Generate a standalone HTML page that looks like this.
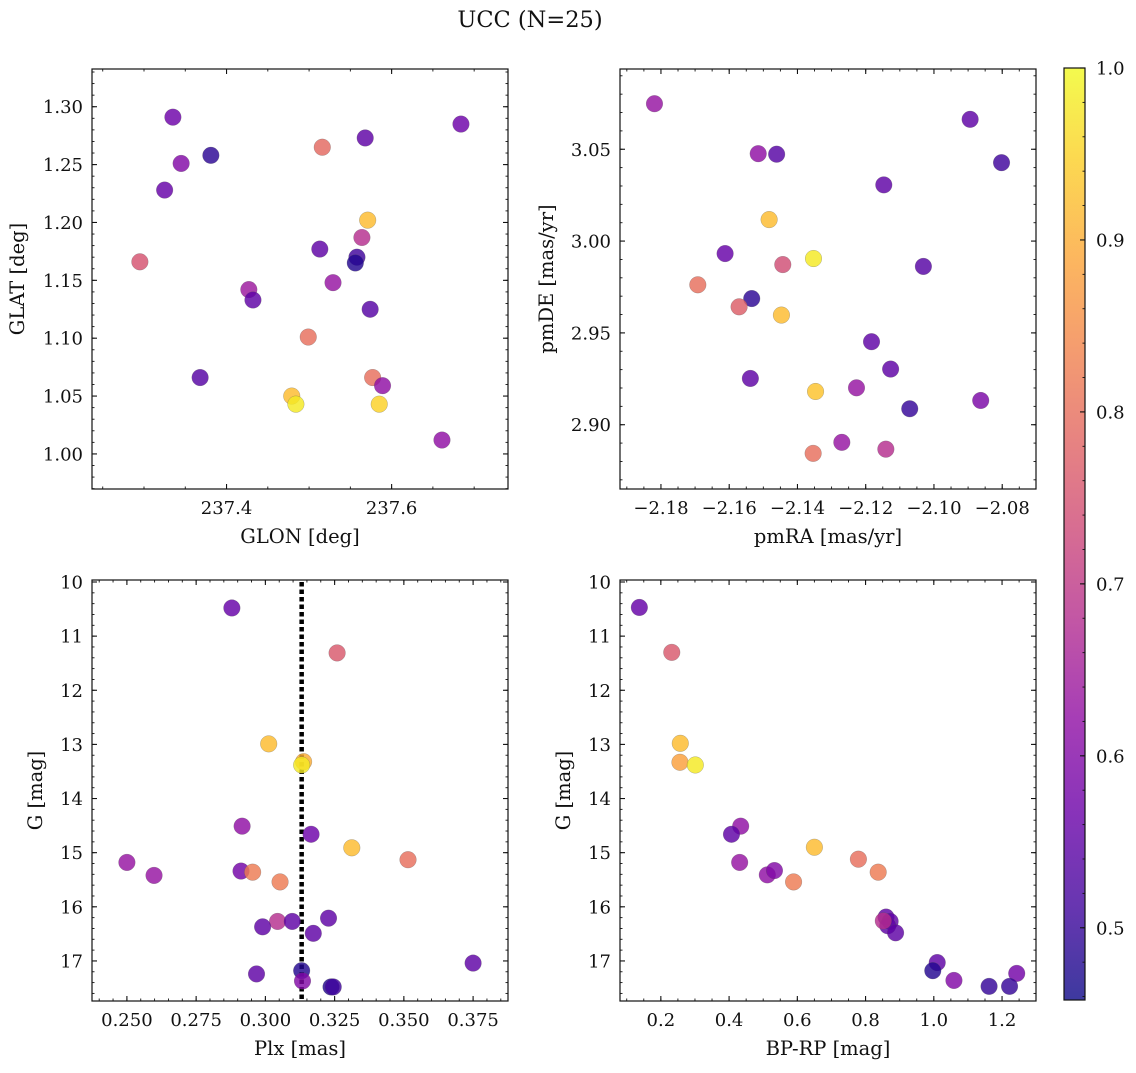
<!DOCTYPE html>
<html><head><meta charset="utf-8">
<style>
html,body{margin:0;padding:0;background:#fff;}
svg text{font-family:"DejaVu Serif","Liberation Serif",serif;fill:#111;}
</style></head>
<body>
<svg id="fig" width="1136" height="1068" viewBox="0 0 1136 1068" xmlns="http://www.w3.org/2000/svg">
<rect width="1136" height="1068" fill="#fff"/>
<text x="530" y="27" font-size="22.5" text-anchor="middle">UCC (N=25)</text>
<defs>
<linearGradient id="plasma" x1="0" y1="1" x2="0" y2="0">
<stop offset="0" stop-color="#0d0887"/><stop offset="0.1" stop-color="#41049d"/><stop offset="0.2" stop-color="#6a00a8"/><stop offset="0.3" stop-color="#8f0da4"/><stop offset="0.4" stop-color="#b12a90"/><stop offset="0.5" stop-color="#cc4778"/><stop offset="0.6" stop-color="#e16462"/><stop offset="0.7" stop-color="#f2844b"/><stop offset="0.8" stop-color="#fca636"/><stop offset="0.9" stop-color="#fcce25"/><stop offset="1" stop-color="#f0f921"/>
</linearGradient>
</defs>
</svg>
<script>
// ---- data: panel 1 (GLON vs GLAT)
const glon = [237.335,237.381,237.345,237.325,237.295,237.516,237.568,237.684,237.571,237.564,237.513,237.558,237.556,237.427,237.432,237.529,237.574,237.499,237.368,237.577,237.589,237.479,237.484,237.585,237.661];
const glat = [1.291,1.258,1.251,1.228,1.166,1.265,1.273,1.285,1.202,1.187,1.177,1.170,1.165,1.142,1.133,1.148,1.125,1.101,1.066,1.066,1.059,1.050,1.043,1.043,1.012];
const prob1 = [0.57,0.49,0.60,0.56,0.75,0.79,0.55,0.57,0.92,0.68,0.55,0.51,0.48,0.64,0.55,0.63,0.54,0.80,0.54,0.80,0.62,0.92,0.98,0.95,0.62];
// ---- panel 2 (pmRA vs pmDE)
const pmra = [-2.1819,-2.1515,-2.1461,-2.0894,-2.0802,-2.1147,-2.1483,-2.1612,-2.1443,-2.1353,-2.1031,-2.1692,-2.1534,-2.1571,-2.1447,-2.1183,-2.1127,-2.1538,-2.1347,-2.1227,-2.1071,-2.0863,-2.1270,-2.1141,-2.1354];
const pmde = [3.0748,3.0476,3.0473,3.0663,3.0427,3.0306,3.0117,2.9932,2.9872,2.9905,2.9862,2.9762,2.9687,2.9642,2.9597,2.9452,2.9303,2.9252,2.9181,2.9201,2.9087,2.9132,2.8904,2.8867,2.8844];
const prob2 = [0.63,0.62,0.54,0.55,0.51,0.55,0.92,0.56,0.74,0.98,0.54,0.80,0.49,0.77,0.92,0.55,0.55,0.55,0.93,0.63,0.50,0.59,0.63,0.68,0.80];
// ---- panel 3 (Plx vs G)
const plx = [0.2879,0.3259,0.3012,0.3138,0.3131,0.2916,0.3165,0.3312,0.2500,0.3515,0.2598,0.2912,0.2954,0.3053,0.3044,0.3097,0.2990,0.3228,0.3173,0.3750,0.2968,0.3131,0.3134,0.3237,0.3245];
const gmag3 = [10.48,11.31,12.99,13.32,13.38,14.51,14.66,14.91,15.18,15.13,15.42,15.34,15.36,15.54,16.27,16.27,16.37,16.21,16.49,17.04,17.24,17.18,17.37,17.48,17.48];
const prob3 = [0.56,0.76,0.92,0.90,0.98,0.62,0.57,0.92,0.63,0.80,0.63,0.58,0.82,0.82,0.68,0.55,0.55,0.55,0.55,0.55,0.55,0.48,0.60,0.48,0.51];
const plxMean = [0.3131];
// ---- panel 4 (BP-RP vs G)
const bprp = [0.137,0.232,0.257,0.256,0.301,0.434,0.407,0.650,0.431,0.779,0.512,0.533,0.837,0.589,0.860,0.872,0.865,0.852,0.888,1.010,0.997,1.059,1.243,1.162,1.222];
const gmag4 = [10.47,11.30,12.98,13.33,13.38,14.51,14.66,14.90,15.18,15.12,15.41,15.33,15.36,15.54,16.19,16.27,16.35,16.26,16.48,17.03,17.18,17.36,17.23,17.47,17.47];
const prob4 = [0.56,0.76,0.92,0.88,0.98,0.62,0.55,0.92,0.63,0.80,0.62,0.60,0.82,0.82,0.55,0.55,0.55,0.68,0.55,0.55,0.48,0.60,0.58,0.50,0.50];
// ---- colorbar
const cbTicks = [0.5,0.6,0.7,0.8,0.9,1.0];
const cbRange = [0.458,1.0];
const ticks1x = [237.4,237.6], ticks1y = [1.00,1.05,1.10,1.15,1.20,1.25,1.30];
const ticks2x = [-2.18,-2.16,-2.14,-2.12,-2.10,-2.08], ticks2y = [2.90,2.95,3.00,3.05];
const ticks3x = [0.250,0.275,0.300,0.325,0.350,0.375], ticks3y = [10,11,12,13,14,15,16,17];
const ticks4x = [0.2,0.4,0.6,0.8,1.0,1.2], ticks4y = [10,11,12,13,14,15,16,17];

const NS = "http://www.w3.org/2000/svg";
const svg = document.getElementById('fig');
const TFS = 18, LFS = 19.5;
function mk(tag, attrs, parent){const e=document.createElementNS(NS,tag);for(const k in attrs)e.setAttribute(k,attrs[k]);(parent||svg).appendChild(e);return e;}
const stops=[[13,8,135],[65,4,157],[106,0,168],[143,13,164],[177,42,144],[204,71,120],[225,100,98],[242,132,75],[252,166,54],[252,206,37],[240,249,33]];
function plasma(v){let t=(v-cbRange[0])/(cbRange[1]-cbRange[0]);t=Math.max(0,Math.min(1,t));const s=t*10,i=Math.min(9,Math.floor(s)),f=s-i;const a=stops[i],b=stops[i+1];return `rgb(${Math.round(a[0]+(b[0]-a[0])*f)},${Math.round(a[1]+(b[1]-a[1])*f)},${Math.round(a[2]+(b[2]-a[2])*f)})`;}
function fmt(v,d){const s=Math.abs(v).toFixed(d);return (v<-1e-12?'\u2212':'')+s;}

function panel(cfg){
  const g=mk('g',{});
  
  
  const {L,R,T,B,xmin,xmax,ymin,ymax,invertY}=cfg;
  const sx=v=>L+(v-xmin)/(xmax-xmin)*(R-L);
  const sy=v=>invertY? T+(v-ymin)/(ymax-ymin)*(B-T) : B-(v-ymin)/(ymax-ymin)*(B-T);
  const eps=1e-9;
  for(let v=Math.ceil(xmin/cfg.xminor-eps)*cfg.xminor; v<=xmax+eps; v+=cfg.xminor){const x=sx(v);
    const t1=mk('line',{x1:x,y1:B,x2:x,y2:B-2.5,stroke:'#111','stroke-width':0.9},g);
    
    mk('line',{x1:x,y1:T,x2:x,y2:T+2.5,stroke:'#111','stroke-width':0.9},g);}
  for(let v=Math.ceil(ymin/cfg.yminor-eps)*cfg.yminor; v<=ymax+eps; v+=cfg.yminor){const y=sy(v);
    const t1=mk('line',{x1:L,y1:y,x2:L+2.5,y2:y,stroke:'#111','stroke-width':0.9},g);
    
    mk('line',{x1:R,y1:y,x2:R-2.5,y2:y,stroke:'#111','stroke-width':0.9},g);}
  cfg.xt.forEach(v=>{const x=sx(v);
    mk('line',{x1:x,y1:B,x2:x,y2:B-5,stroke:'#111','stroke-width':1.1},g);
    mk('line',{x1:x,y1:T,x2:x,y2:T+5,stroke:'#111','stroke-width':1.1},g);
    const t=mk('text',{x:x,y:B+25,'font-size':TFS,'text-anchor':'middle'},g);t.textContent=fmt(v,cfg.xd);
    });
  cfg.yt.forEach(v=>{const y=sy(v);
    mk('line',{x1:L,y1:y,x2:L+5,y2:y,stroke:'#111','stroke-width':1.1},g);
    mk('line',{x1:R,y1:y,x2:R-5,y2:y,stroke:'#111','stroke-width':1.1},g);
    const t=mk('text',{x:L-9,y:y+6.5,'font-size':TFS,'text-anchor':'end'},g);t.textContent=fmt(v,cfg.yd);
    });
  if(cfg.vline!==undefined){const x=sx(cfg.vline);
    const l=mk('line',{x1:x,y1:T+2,x2:x,y2:B,stroke:'#000','stroke-width':4.5,'stroke-dasharray':'4.5 3'},g);
    }
  cfg.xs.forEach((xv,i)=>{
    const c=mk('circle',{cx:sx(xv),cy:sy(cfg.ys[i]),r:8.3,fill:plasma(cfg.cs[i]),'fill-opacity':0.82,stroke:'#555','stroke-opacity':0.45,'stroke-width':0.5},g);
    
    
  });
  const fr=mk('rect',{x:L,y:T,width:R-L,height:B-T,fill:'none',stroke:'#111','stroke-width':1.2},g);
  
  const xl=mk('text',{x:(L+R)/2,y:B+54,'font-size':LFS,'text-anchor':'middle'},g);xl.textContent=cfg.xlabel;
  
  const yx=cfg.ylx, yy=(T+B)/2;
  const yl=mk('text',{x:yx,y:yy,'font-size':LFS,'text-anchor':'middle',transform:`rotate(-90 ${yx} ${yy})`},g);yl.textContent=cfg.ylabel;
  
}

panel({name:'glon-glat-panel',L:92,R:508,T:69,B:489,xmin:237.237,xmax:237.741,ymin:0.9697,ymax:1.3326,xminor:0.05,yminor:0.01,xt:ticks1x,yt:ticks1y,xd:1,yd:2,xs:glon,ys:glat,cs:prob1,xlabel:'GLON [deg]',ylabel:'GLAT [deg]',ylx:24});
panel({name:'pm-panel',L:620,R:1036,T:69,B:489,xmin:-2.192,xmax:-2.0701,ymin:2.865,ymax:3.0937,xminor:0.005,yminor:0.01,xt:ticks2x,yt:ticks2y,xd:2,yd:2,xs:pmra,ys:pmde,cs:prob2,xlabel:'pmRA [mas/yr]',ylabel:'pmDE [mas/yr]',ylx:553});
panel({name:'plx-g-panel',L:92,R:508,T:580,B:1001,xmin:0.2374,xmax:0.3876,ymin:9.963,ymax:17.74,invertY:true,xminor:0.005,yminor:0.2,xt:ticks3x,yt:ticks3y,xd:3,yd:0,xs:plx,ys:gmag3,cs:prob3,vline:plxMean[0],xlabel:'Plx [mas]',ylabel:'G [mag]',ylx:42});
panel({name:'cmd-panel',L:620,R:1036,T:580,B:1001,xmin:0.0803,xmax:1.2995,ymin:9.963,ymax:17.74,invertY:true,xminor:0.05,yminor:0.2,xt:ticks4x,yt:ticks4y,xd:1,yd:0,xs:bprp,ys:gmag4,cs:prob4,xlabel:'BP-RP [mag]',ylabel:'G [mag]',ylx:570});

// colorbar
const cb=mk('g',{});


const CT=68,CB=1000,CL=1064,CR=1085;
mk('rect',{x:CL,y:CT,width:CR-CL,height:CB-CT,fill:'url(#plasma)','fill-opacity':0.8},cb);
const cy=v=>CB-(v-cbRange[0])/(cbRange[1]-cbRange[0])*(CB-CT);
for(let v=0.46; v<=1.0001; v+=0.02){const y=cy(v);mk('line',{x1:CR,y1:y,x2:CR-2.5,y2:y,stroke:'#111','stroke-width':0.9},cb);}
cbTicks.forEach(v=>{const y=cy(v);
  mk('line',{x1:CR,y1:y,x2:CR-5,y2:y,stroke:'#111','stroke-width':1.1},cb);
  const t=mk('text',{x:CR+11,y:y+6.5,'font-size':TFS},cb);t.textContent=v.toFixed(1);
  });
mk('rect',{x:CL,y:CT,width:CR-CL,height:CB-CT,fill:'none',stroke:'#111','stroke-width':1.2},cb);
</script>
</body></html>
